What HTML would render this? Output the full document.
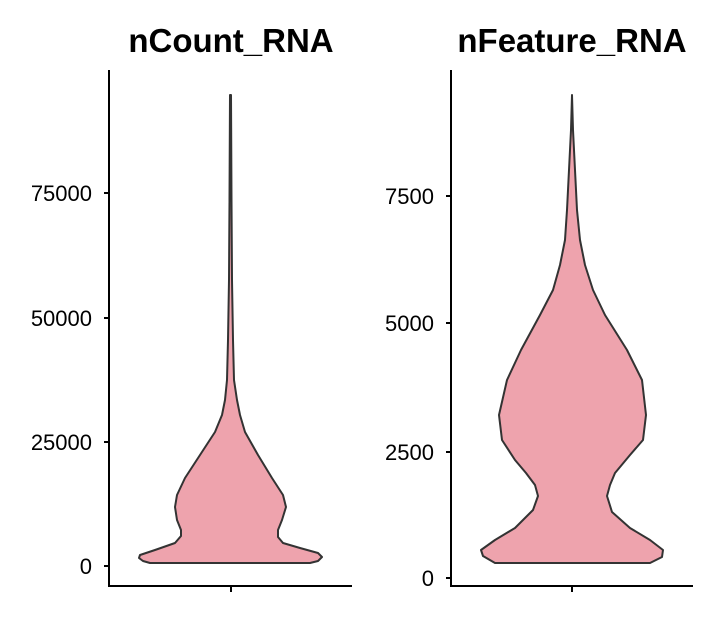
<!DOCTYPE html><html><head><style>body{margin:0;background:#fff}</style></head><body>
<svg width="720" height="620" xmlns="http://www.w3.org/2000/svg" font-family="Liberation Sans, Arial, sans-serif">
<rect width="720" height="620" fill="#fff"/>
<g fill="#EEA3AD" stroke="#333" stroke-width="2" stroke-linejoin="round">
<path d="M230,95 L229.5,200 L229,280 L228,340 L227,380 L225,400 L222,415 L215,432 L200,455 L185,478 L177,495 L175,507 L177,520 L181,530 L181,536 L175,543 L155,550 L140,555 L139,558 L143,561 L150,563 L310,563 L318,561 L322,557 L318,553 L300,548 L283,543 L278,537 L278,530 L282,520 L286,507 L283,495 L272,478 L258,455 L245,432 L240,415 L237,400 L234,380 L233,340 L232,280 L231.5,200 L231,95 Z"/>
<path d="M572,95 L571,130 L569,170 L567,210 L565,240 L560,265 L553,290 L540,315 L521,350 L507,380 L499,415 L502,440 L515,460 L526,473 L535,485 L538,496 L533,510 L515,528 L495,540 L481,550 L483,556 L495,563 L650,563 L662,557 L663,550 L650,540 L630,528 L612,512 L607,496 L610,485 L615,473 L630,455 L643,440 L646,415 L642,380 L627,350 L605,315 L593,290 L585,265 L580,240 L577,210 L575,170 L573,130 L572,95 Z"/>
</g>
<g stroke="#000" stroke-width="2" fill="none">
<path d="M109,70 V586 H352"/><path d="M231,586 v6"/>
<path d="M104,566 h5 M104,442 h5 M104,318 h5 M104,193 h5"/>
<path d="M451,70 V586 H693"/><path d="M572,586 v6"/>
<path d="M446,578 h5 M446,452 h5 M446,323 h5 M446,196 h5"/>
</g>
<g font-size="22" fill="#000" text-anchor="end">
<text x="92" y="574">0</text><text x="92" y="450">25000</text><text x="92" y="326">50000</text><text x="92" y="201">75000</text>
<text x="434" y="586">0</text><text x="434" y="460">2500</text><text x="434" y="331">5000</text><text x="434" y="204">7500</text>
</g>
<g font-size="33" font-weight="bold" text-anchor="middle">
<text x="231" y="52">nCount_RNA</text><text x="572" y="52">nFeature_RNA</text>
</g>
</svg></body></html>
